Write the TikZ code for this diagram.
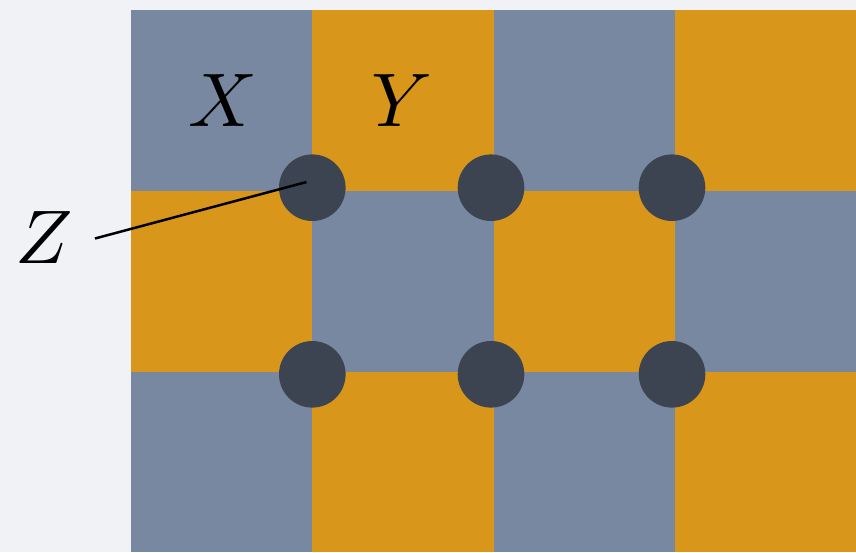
\documentclass[tikz,border=0pt]{standalone}
\usepackage{tikz}
\definecolor{bgc}{HTML}{F0F2F6}
\definecolor{slate}{HTML}{7788A0}
\definecolor{amber}{HTML}{D8971A}
\definecolor{dot}{HTML}{3D4451}
\begin{document}
\begin{tikzpicture}[x=1pt,y=-1pt,
  cellA/.style={fill=slate},
  cellB/.style={fill=amber},
  dotc/.style={circle,fill=dot,draw=none,minimum size=66.6pt,inner sep=0pt},
  lbl/.style={scale=7.6,inner sep=0pt},
  lead/.style={line width=2.5pt,black}]
\useasboundingbox (0,0) rectangle (856,552);
\fill[bgc] (0,0) rectangle (856,552);
% grid
\fill[cellA] (130.5,10) rectangle (312,191);
\fill[cellB] (312,10) rectangle (494,191);
\fill[cellA] (494,10) rectangle (675,191);
\fill[cellB] (675,10) rectangle (856,191);
\fill[cellB] (130.5,191) rectangle (312,371.7);
\fill[cellA] (312,191) rectangle (494,371.7);
\fill[cellB] (494,191) rectangle (675,371.7);
\fill[cellA] (675,191) rectangle (856,371.7);
\fill[cellA] (130.5,371.7) rectangle (312,552);
\fill[cellB] (312,371.7) rectangle (494,552);
\fill[cellA] (494,371.7) rectangle (675,552);
\fill[cellB] (675,371.7) rectangle (856,552);
% dots
\node[dotc] (d1) at (312.3,187.7) {};
\node[dotc] (d2) at (491,187.7) {};
\node[dotc] (d3) at (672,187.7) {};
\node[dotc] (d4) at (312.3,374.3) {};
\node[dotc] (d5) at (491,374.3) {};
\node[dotc] (d6) at (672,374.3) {};
% labels
\node[lbl] (x) at (223,101) {$X$};
\node[lbl] (y) at (402,101) {$Y$};
\node[lbl] (z) at (44,237.5) {$Z$};
\coordinate (zend) at (306.5,182);
\draw[lead] (95,238.5) -- (zend);
\end{tikzpicture}
\end{document}
